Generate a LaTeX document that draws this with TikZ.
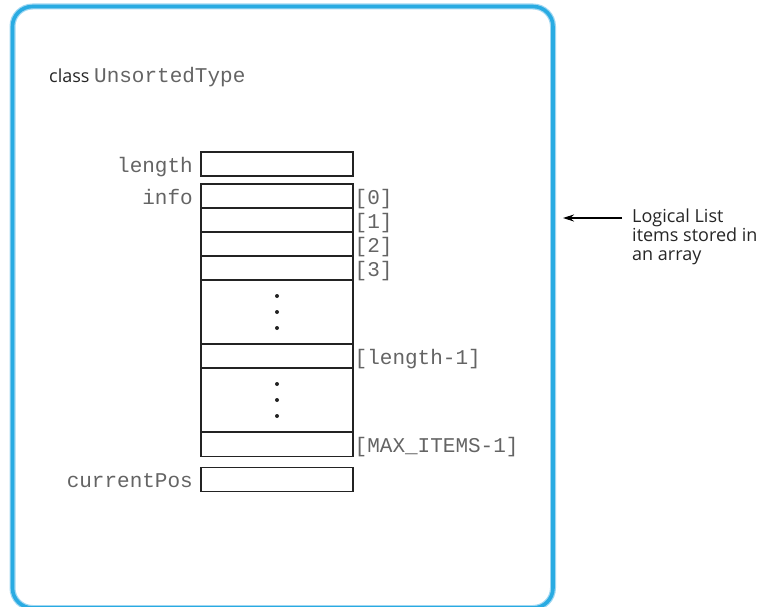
\documentclass[tikz,border=0pt]{standalone}
\usepackage{fontspec}
\setmainfont{Open Sans}
\setmonofont{Liberation Mono}
\usetikzlibrary{arrows.meta}
\definecolor{frameblue}{RGB}{41,171,226}
\definecolor{frameglow}{RGB}{160,215,242}
\definecolor{codegray}{RGB}{100,100,100}
\definecolor{boxline}{RGB}{35,35,35}
\begin{document}
\begin{tikzpicture}[x=1pt,y=-1pt,
  cell/.style={draw=boxline, line width=1.2pt, minimum width=152pt, minimum height=24pt, inner sep=0pt, outer sep=0pt},
  gapcell/.style={cell, minimum height=64pt},
  code/.style={font=\fontsize{21}{24}\selectfont\ttfamily, text=codegray, inner sep=0pt},
  varname/.style={code, anchor=base east},
  idx/.style={code, anchor=base west},
  sans/.style={font=\fontsize{18}{18.7}\selectfont, text=black!85, inner sep=0pt},
  dotmark/.style={fill=boxline}
]
\useasboundingbox (0,0) rectangle (757,607);
% frame
\draw[frameglow, line width=6pt, rounded corners=20pt] (12.5,6.5) rectangle (553,608);
\draw[frameblue, line width=3.6pt, rounded corners=20pt] (12.5,6.5) rectangle (553,608);

% title
\node[sans, anchor=base west] (title) at (49,83) {class \texttt{\fontsize{21}{24}\selectfont\color{codegray}UnsortedType}};

% cells
\node[cell] (len) at (277,164) {};
\node[cell] (c0) at (277,196) {};
\node[cell] (c1) at (277,220) {};
\node[cell] (c2) at (277,244) {};
\node[cell] (c3) at (277,268) {};
\node[gapcell] (g1) at (277,312) {};
\node[cell] (clen) at (277,356) {};
\node[gapcell] (g2) at (277,400) {};
\node[cell] (cmax) at (277,444.5) {};
\node[cell] (cur) at (277,479.5) {};

% dots
\foreach \g in {g1,g2}{
  \fill[dotmark] ([yshift=16pt]\g.center) circle (2pt);
  \fill[dotmark] (\g.center) circle (2pt);
  \fill[dotmark] ([yshift=-16pt]\g.center) circle (2pt);
}

% variable names
\node[varname] (lenlab) at ([xshift=-8pt,yshift=4pt]len.south west) {length};
\node[varname] (infolab) at ([xshift=-8pt,yshift=4pt]c0.south west) {info};
\node[varname] (curlab) at ([xshift=-8pt,yshift=4.5pt]cur.south west) {currentPos};

% indices
\node[idx] (i0) at ([xshift=1.5pt,yshift=4pt]c0.south east) {[0]};
\node[idx] (i1) at ([xshift=1.5pt,yshift=4pt]c1.south east) {[1]};
\node[idx] (i2) at ([xshift=1.5pt,yshift=4pt]c2.south east) {[2]};
\node[idx] (i3) at ([xshift=1.5pt,yshift=4pt]c3.south east) {[3]};
\node[idx] (ilen) at ([xshift=1.5pt,yshift=4pt]clen.south east) {[length-1]};
\node[idx] (imax) at ([xshift=1.5pt,yshift=4pt]cmax.south east) {[MAX\_ITEMS-1]};

% note
\node[sans, anchor=north west, align=left] (note) at (632,209) {Logical List\\items stored in\\an array};
\coordinate (atip) at (563,218);
\draw[line width=1.1pt, -{Stealth[length=11pt,width=7pt]}] ([xshift=-10pt,yshift=-9pt]note.north west) -- (atip);
\end{tikzpicture}
\end{document}
